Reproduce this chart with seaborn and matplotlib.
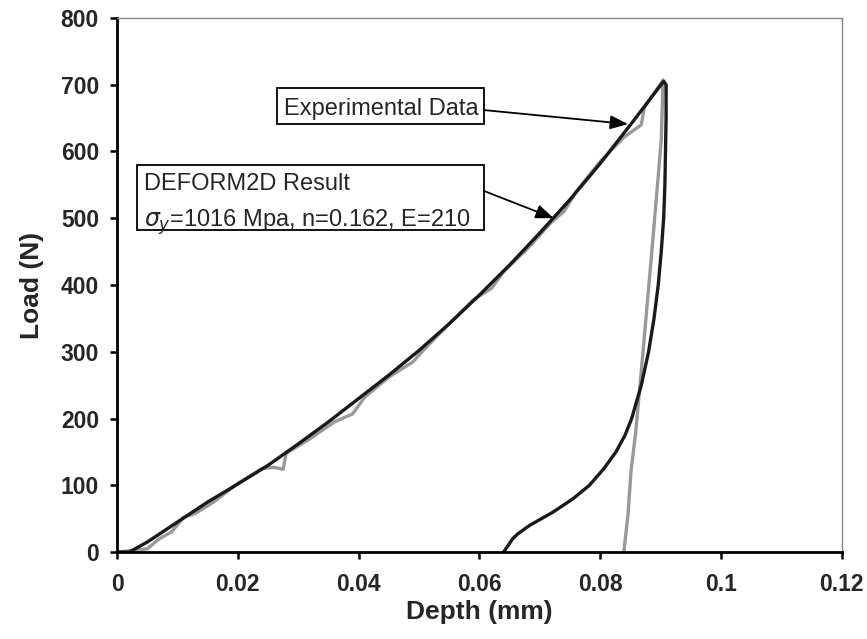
import matplotlib
matplotlib.use("Agg")
import matplotlib.pyplot as plt
import matplotlib.ticker as mticker
from matplotlib.patches import Rectangle
import pandas as pd
import seaborn as sns

# Experimental data: loading then unloading (depth mm, load N)
exp_depth = [0.0, 0.002, 0.005, 0.010, 0.015, 0.020, 0.025, 0.030, 0.035, 0.040,
             0.045, 0.050, 0.055, 0.060, 0.065, 0.070, 0.075, 0.080, 0.085, 0.0905,
             0.0909, 0.0909, 0.0908, 0.0907, 0.0905, 0.0901, 0.0896, 0.0889, 0.0880,
             0.0868, 0.0852, 0.0841, 0.0826, 0.0806, 0.0782, 0.0755, 0.0722, 0.0683,
             0.0663, 0.0655, 0.0640]
exp_load = [0, 0, 15, 45, 75, 102, 130, 162, 195, 230,
            265, 302, 342, 385, 430, 478, 528, 582, 640, 705,
            700, 650, 600, 550, 500, 450, 400, 350, 300,
            250, 200, 175, 150, 125, 100, 80, 60, 40,
            27, 20, 0]

# DEFORM2D result
fem_depth = [0.0, 0.003, 0.005, 0.007, 0.009, 0.011, 0.013, 0.016, 0.020, 0.024,
             0.026, 0.0275, 0.028, 0.032, 0.036, 0.039, 0.041, 0.045, 0.049, 0.051,
             0.055, 0.059, 0.062, 0.064, 0.068, 0.072, 0.074, 0.076, 0.080, 0.0839,
             0.0868, 0.0873, 0.0904, 0.0901, 0.0887, 0.0871, 0.0862, 0.0859, 0.0851,
             0.0846, 0.0839]
fem_load = [0, 3, 5, 20, 30, 52, 58, 75, 103, 125,
            127, 124, 148, 170, 195, 207, 232, 262, 285, 305,
            342, 378, 395, 420, 455, 495, 510, 540, 585, 621,
            640, 666, 707, 617, 467, 302, 212, 182, 122,
            57, 0]

x_ticks = [0, 0.02, 0.04, 0.06, 0.08, 0.1, 0.12]
y_ticks = [0, 100, 200, 300, 400, 500, 600, 700, 800]

sns.set_theme(style="white")
plt.rcParams["font.family"] = ["Liberation Sans", "DejaVu Sans"]

exp = pd.DataFrame({"depth": exp_depth, "load": exp_load})
fem = pd.DataFrame({"depth": fem_depth, "load": fem_load})

fig = plt.figure(figsize=(8.67, 6.39), dpi=100)
ax = fig.add_axes([0.135, 0.136, 0.836, 0.836])

sns.lineplot(data=fem, x="depth", y="load", sort=False, estimator=None,
             color="#999999", linewidth=2.4, ax=ax)
sns.lineplot(data=exp, x="depth", y="load", sort=False, estimator=None,
             color="#1a1a1a", linewidth=2.4, ax=ax)

ax.set_xlim(0, 0.12)
ax.set_ylim(0, 800)
ax.set_xticks(x_ticks)
ax.set_yticks(y_ticks)
ax.xaxis.set_major_formatter(mticker.FuncFormatter(lambda v, _: f"{v:g}"))
ax.tick_params(axis="both", direction="out", length=5, width=1.8, color="black",
               labelsize=16.5, bottom=True, left=True)
ax.tick_params(axis="x", pad=10)
ax.tick_params(axis="y", pad=8)
for lbl in ax.get_xticklabels() + ax.get_yticklabels():
    lbl.set_fontweight("bold")
ax.set_xlabel("Depth (mm)", fontsize=19, fontweight="bold", labelpad=3)
ax.set_ylabel("Load (N)", fontsize=19, fontweight="bold", labelpad=12)

for side in ["left", "bottom"]:
    ax.spines[side].set_color("black")
    ax.spines[side].set_linewidth(2.0)
for side in ["top", "right"]:
    ax.spines[side].set_color("#888888")
    ax.spines[side].set_linewidth(1.0)

# annotation boxes
ax.add_patch(Rectangle((0.0264, 641), 0.0343, 54, fc="white", ec="black",
                       lw=1.3, zorder=5))
ax.add_patch(Rectangle((0.0033, 482), 0.0574, 98, fc="white", ec="black",
                       lw=1.3, zorder=5))
ax.text(0.0276, 655, "Experimental Data", fontsize=17, va="baseline",
        ha="left", zorder=6)
ax.text(0.0045, 542, "DEFORM2D Result", fontsize=17, va="baseline",
        ha="left", zorder=6)
ax.text(0.0045, 487, "$\\sigma_y$=1016 Mpa, n=0.162, E=210", fontsize=17,
        va="baseline", ha="left", zorder=6)

arrow = dict(arrowstyle="-|>,head_length=0.9,head_width=0.35", color="black",
             lw=1.3, shrinkA=0, shrinkB=0, mutation_scale=12)
ax.annotate("", xy=(0.0846, 641), xytext=(0.0607, 662), arrowprops=arrow, zorder=6)
ax.annotate("", xy=(0.0723, 500), xytext=(0.0607, 541), arrowprops=arrow, zorder=6)

fig.savefig("out.png", dpi=100)
